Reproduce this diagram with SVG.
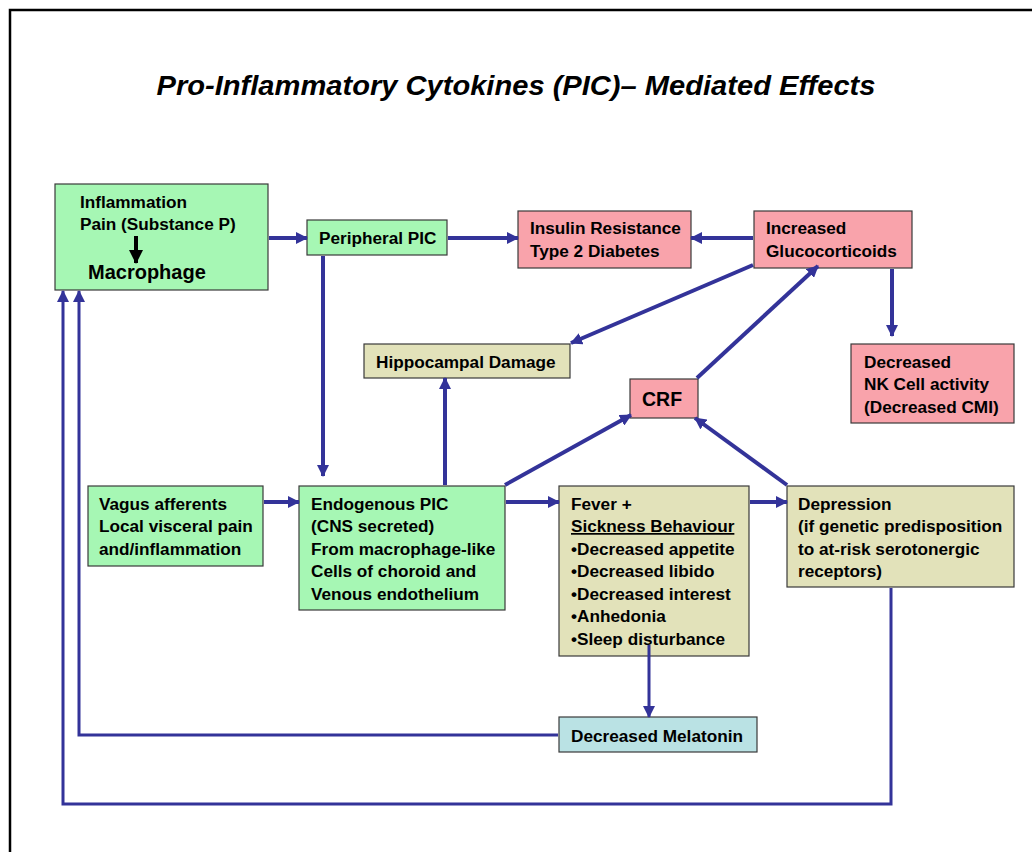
<svg xmlns="http://www.w3.org/2000/svg" width="1032" height="852" viewBox="0 0 1032 852">
<defs>
<style>
.t{font-family:"Liberation Sans",Arial,sans-serif;font-weight:bold;font-size:17.2px;fill:#000}
.box{stroke:#3a3a3a;stroke-width:1.2}
.g{fill:#A6F7B4}.p{fill:#F9A3AB}.k{fill:#E2E2BA}.b{fill:#BAE2E4}
.c{fill:none;stroke:#333399;stroke-width:4}
.c3{fill:none;stroke:#333399;stroke-width:3}
</style>
<marker id="ah" markerUnits="userSpaceOnUse" markerWidth="12" markerHeight="12" refX="11" refY="6" orient="auto" viewBox="0 0 12 12">
<path d="M0,0 L12,6 L0,12 z" fill="#333399"/>
</marker>
<marker id="bk" markerUnits="userSpaceOnUse" markerWidth="14" markerHeight="14" refX="13" refY="7" orient="auto" viewBox="0 0 14 14">
<path d="M0,0 L14,7 L0,14 z" fill="#000"/>
</marker>
</defs>
<rect width="1032" height="852" fill="#fff"/>
<path d="M10,852 L10,10 L1032,10" fill="none" stroke="#000" stroke-width="2.5"/>
<text x="516" y="95" text-anchor="middle" font-family="Liberation Sans, Arial, sans-serif" font-weight="bold" font-style="italic" font-size="28" textLength="719" lengthAdjust="spacingAndGlyphs">Pro-Inflammatory Cytokines (PIC)– Mediated Effects</text>

<g id="inflammation">
<rect class="box g" x="55" y="184" width="213" height="106"/>
<text class="t" x="80" y="208">Inflammation</text>
<text class="t" x="80" y="230">Pain (Substance P)</text>
<line x1="136" y1="236" x2="136" y2="263" stroke="#000" stroke-width="4" marker-end="url(#bk)"/>
<text class="t" x="88" y="279" style="font-size:20px">Macrophage</text>
</g>
<g id="peripheral-pic">
<rect class="box g" x="307" y="220" width="140" height="35"/>
<text class="t" x="319" y="244">Peripheral PIC</text>
</g>
<g id="insulin">
<rect class="box p" x="518" y="211" width="173" height="57"/>
<text class="t" x="530" y="234">Insulin Resistance</text>
<text class="t" x="530" y="257">Type 2 Diabetes</text>
</g>
<g id="glucocorticoids">
<rect class="box p" x="754" y="211" width="158" height="57"/>
<text class="t" x="766" y="234">Increased</text>
<text class="t" x="766" y="257">Glucocorticoids</text>
</g>
<g id="hippocampal">
<rect class="box k" x="364" y="344" width="206" height="34"/>
<text class="t" x="376" y="368">Hippocampal Damage</text>
</g>
<g id="crf">
<rect class="box p" x="630" y="379" width="68" height="39"/>
<text class="t" x="642" y="406" style="font-size:19.5px">CRF</text>
</g>
<g id="nk">
<rect class="box p" x="851" y="344" width="163" height="79"/>
<text class="t" x="864" y="368">Decreased</text>
<text class="t" x="864" y="390">NK Cell activity</text>
<text class="t" x="864" y="413">(Decreased CMI)</text>
</g>
<g id="vagus">
<rect class="box g" x="88" y="486" width="175" height="80"/>
<text class="t" x="99" y="510">Vagus afferents</text>
<text class="t" x="99" y="532">Local visceral pain</text>
<text class="t" x="99" y="555">and/inflammation</text>
</g>
<g id="endogenous">
<rect class="box g" x="299" y="486" width="206" height="124"/>
<text class="t" x="311" y="510">Endogenous PIC</text>
<text class="t" x="311" y="532">(CNS secreted)</text>
<text class="t" x="311" y="555">From macrophage-like</text>
<text class="t" x="311" y="577">Cells of choroid and</text>
<text class="t" x="311" y="600">Venous endothelium</text>
</g>
<g id="fever">
<rect class="box k" x="559" y="486" width="190" height="170"/>
<text class="t" x="571" y="510">Fever +</text>
<text class="t" x="571" y="532" text-decoration="underline">Sickness Behaviour</text>
<text class="t" x="571" y="555">•Decreased appetite</text>
<text class="t" x="571" y="577">•Decreased libido</text>
<text class="t" x="571" y="600">•Decreased interest</text>
<text class="t" x="571" y="622">•Anhedonia</text>
<text class="t" x="571" y="645">•Sleep disturbance</text>
</g>
<g id="depression">
<rect class="box k" x="787" y="486" width="227" height="101"/>
<text class="t" x="798" y="510">Depression</text>
<text class="t" x="798" y="532">(if genetic predisposition</text>
<text class="t" x="798" y="555">to at-risk serotonergic</text>
<text class="t" x="798" y="577">receptors)</text>
</g>
<g id="melatonin">
<rect class="box b" x="559" y="717" width="198" height="35"/>
<text class="t" x="571" y="742">Decreased Melatonin</text>
</g>

<g id="connectors">
<line class="c" x1="269" y1="238" x2="307" y2="238" marker-end="url(#ah)"/>
<line class="c" x1="448" y1="238" x2="518" y2="238" marker-end="url(#ah)"/>
<line class="c" x1="753" y1="238" x2="691" y2="238" marker-end="url(#ah)"/>
<line class="c" x1="323" y1="256" x2="323" y2="476" marker-end="url(#ah)"/>
<line class="c" x1="753" y1="265" x2="571" y2="343" marker-end="url(#ah)"/>
<line class="c" x1="697" y1="378" x2="818" y2="266" marker-end="url(#ah)"/>
<line class="c" x1="892" y1="269" x2="892" y2="336" marker-end="url(#ah)"/>
<line class="c" x1="445" y1="485" x2="445" y2="378" marker-end="url(#ah)"/>
<line class="c" x1="505" y1="485" x2="631" y2="415" marker-end="url(#ah)"/>
<line class="c" x1="787" y1="485" x2="695" y2="418" marker-end="url(#ah)"/>
<line class="c" x1="264" y1="502" x2="299" y2="502" marker-end="url(#ah)"/>
<line class="c" x1="506" y1="502" x2="559" y2="502" marker-end="url(#ah)"/>
<line class="c" x1="750" y1="502" x2="787" y2="502" marker-end="url(#ah)"/>
<line class="c3" x1="649" y1="645" x2="649" y2="717" marker-end="url(#ah)"/>
<polyline class="c3" points="558,735 79,735 79,291" marker-end="url(#ah)"/>
<polyline class="c3" points="891,588 891,804 63,804 63,291" marker-end="url(#ah)"/>
</g>
</svg>
